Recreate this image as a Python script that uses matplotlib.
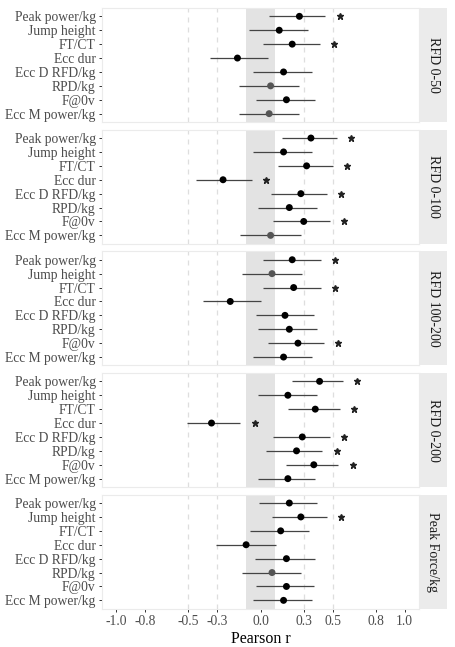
import matplotlib.pyplot as plt
import numpy as np

plt.rcParams['font.family'] = ['Liberation Serif', 'DejaVu Serif']

measures = ["Peak power/kg", "Jump height", "FT/CT", "Ecc dur",
            "Ecc D RFD/kg", "RPD/kg", "F@0v", "Ecc M power/kg"]
panels = ["RFD 0-50", "RFD 0-100", "RFD 100-200", "RFD 0-200", "Peak Force/kg"]

# pearson r, lower and upper CI, significance, per panel
r_vals = [
    [0.27, 0.13, 0.22, -0.16, 0.16, 0.07, 0.18, 0.06],
    [0.35, 0.16, 0.32, -0.26, 0.28, 0.20, 0.30, 0.07],
    [0.22, 0.08, 0.23, -0.21, 0.17, 0.20, 0.26, 0.16],
    [0.41, 0.19, 0.38, -0.34, 0.29, 0.25, 0.37, 0.19],
    [0.20, 0.28, 0.14, -0.10, 0.18, 0.08, 0.18, 0.16],
]
r_lo = [
    [0.06, -0.08, 0.02, -0.35, -0.05, -0.15, -0.03, -0.15],
    [0.15, -0.05, 0.12, -0.45, 0.07, -0.02, 0.09, -0.14],
    [0.02, -0.13, 0.02, -0.40, -0.03, -0.02, 0.05, -0.05],
    [0.22, -0.02, 0.19, -0.51, 0.09, 0.04, 0.18, -0.02],
    [-0.01, 0.08, -0.07, -0.31, -0.04, -0.13, -0.03, -0.05],
]
r_hi = [
    [0.45, 0.33, 0.41, 0.05, 0.36, 0.27, 0.38, 0.27],
    [0.53, 0.36, 0.50, -0.06, 0.46, 0.39, 0.48, 0.28],
    [0.42, 0.29, 0.42, 0.00, 0.37, 0.39, 0.44, 0.36],
    [0.57, 0.39, 0.55, -0.14, 0.48, 0.43, 0.54, 0.38],
    [0.39, 0.46, 0.34, 0.11, 0.38, 0.28, 0.37, 0.36],
]
sig = [
    [1, 0, 1, 0, 0, 0, 0, 0],
    [1, 0, 1, 1, 1, 0, 1, 0],
    [1, 0, 1, 0, 0, 0, 1, 0],
    [1, 0, 1, 1, 1, 1, 1, 0],
    [0, 1, 0, 0, 0, 0, 0, 0],
]
xticks = [-1.0, -0.8, -0.5, -0.3, 0.0, 0.3, 0.5, 0.8, 1.0]

W, H = 455, 647
fig = plt.figure(figsize=(W / 100, H / 100), dpi=100)

left, right = 102, 419
strip_w = 28
ph = 114
tops = [8, 129.7, 251.4, 373, 494.7]
y = np.arange(len(measures))

for i, name in enumerate(panels):
    top = tops[i]
    ax = fig.add_axes([left / W, 1 - (top + ph) / H, (right - left) / W, ph / H])
    ax.axvspan(-0.1, 0.1, color='#e3e3e3', zorder=0, lw=0)
    for g in [-0.5, -0.3, 0.3, 0.5]:
        ax.axvline(g, color='#dedede', lw=0.9, ls=(0, (4, 4)), zorder=0)

    r = np.array(r_vals[i])
    lo = np.array(r_lo[i])
    hi = np.array(r_hi[i])
    ax.hlines(y, lo, hi, color='#444444', lw=0.9, zorder=2)
    cols = ['#555555' if abs(v) < 0.095 else 'black' for v in r]
    ax.scatter(r, y, s=25, c=cols, zorder=3, edgecolors='none')
    s = np.array(sig[i]) == 1
    ax.plot(hi[s] + 0.1, y[s], ls='none', marker='*', ms=4.5, color='#222222', zorder=3)

    ax.set_xlim(-1.1, 1.1)
    ax.set_ylim(len(measures) - 0.4, -0.6)
    ax.set_yticks(y)
    ax.set_yticklabels(measures, fontsize=9.8, color='#4d4d4d')
    ax.tick_params(axis='y', length=2.5, width=0.7, color='#333333', pad=2)
    for sp in ax.spines.values():
        sp.set_color('#ebebeb')
        sp.set_linewidth(0.8)
    if i == len(panels) - 1:
        ax.set_xticks(xticks)
        ax.set_xticklabels(['%.1f' % t for t in xticks], fontsize=9.8, color='#4d4d4d')
        ax.tick_params(axis='x', length=2.5, width=0.7, color='#333333', pad=2)
        ax.set_xlabel("Pearson r", fontsize=11.5, labelpad=2)
    else:
        ax.set_xticks([])

    sx = fig.add_axes([right / W, 1 - (top + ph) / H, strip_w / W, ph / H])
    sx.set_facecolor('#ebebeb')
    sx.set_xticks([])
    sx.set_yticks([])
    for sp in sx.spines.values():
        sp.set_visible(False)
    sx.text(0.5, 0.5, name, rotation=-90, ha='center', va='center',
            fontsize=10, color='#1a1a1a', transform=sx.transAxes)

fig.savefig("out.png", dpi=100)
